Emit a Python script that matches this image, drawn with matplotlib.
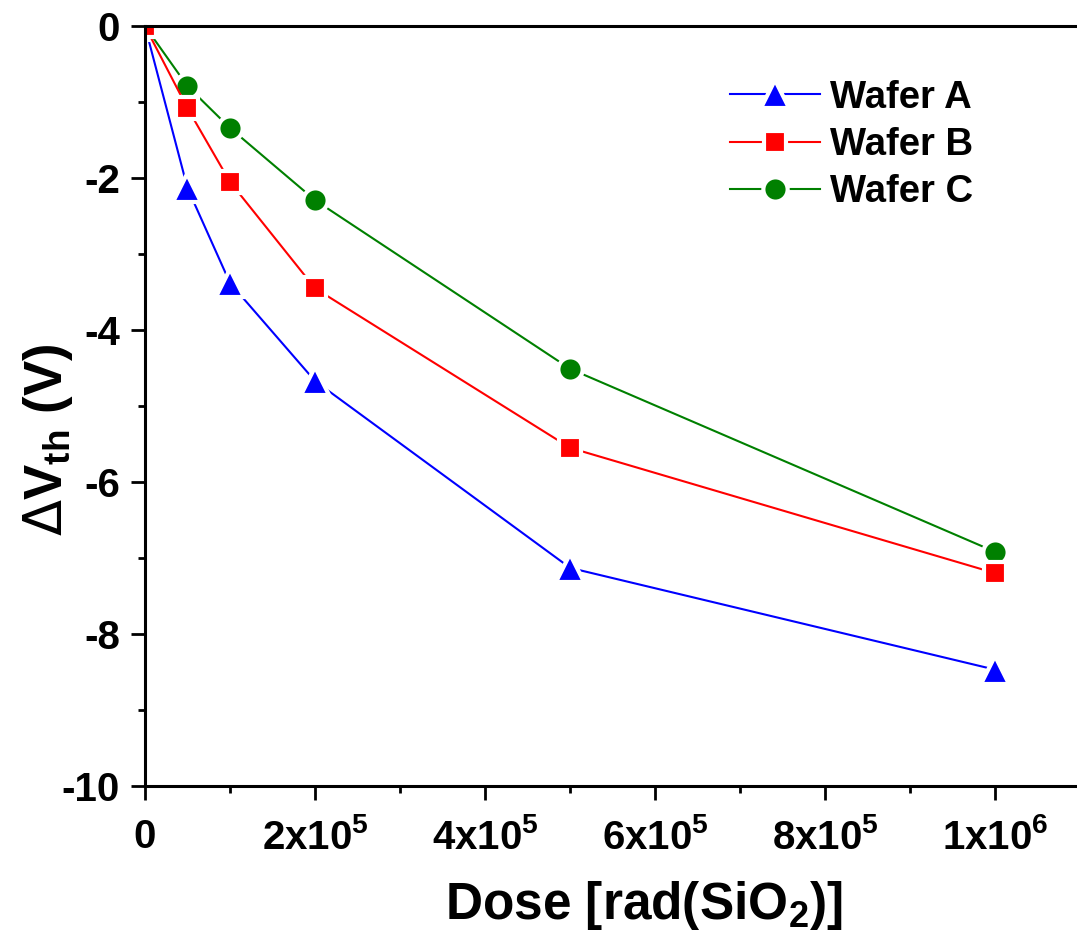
import matplotlib.pyplot as plt
import numpy as np
from matplotlib.ticker import MultipleLocator, FuncFormatter

plt.rcParams['font.family'] = ['Liberation Sans', 'DejaVu Sans']
plt.rcParams['font.weight'] = 'bold'
plt.rcParams['axes.unicode_minus'] = False
plt.rcParams['mathtext.fontset'] = 'custom'
plt.rcParams['mathtext.rm'] = 'Liberation Sans:bold'
plt.rcParams['mathtext.bf'] = 'Liberation Sans:bold'
plt.rcParams['mathtext.it'] = 'Liberation Sans:bold'
plt.rcParams['mathtext.sf'] = 'DejaVu Sans:weight=normal'

dose = np.array([0, 5e4, 1e5, 2e5, 5e5, 1e6])
wafer_a = np.array([0, -2.13, -3.38, -4.67, -7.13, -8.47])
wafer_b = np.array([0, -1.08, -2.05, -3.45, -5.55, -7.20])
wafer_c = np.array([0, -0.79, -1.34, -2.29, -4.51, -6.92])

fig = plt.figure(figsize=(10.77, 9.35), dpi=100)
ax = fig.add_axes([0.1346, 0.1594, 0.8654, 0.8126])

# white marker edge leaves a small gap between the line and each symbol
gap = 3.0
ax.plot(dose, wafer_a, '-^', color='blue', lw=1.5, ms=16.5 + gap, mec='white', mew=gap, label='Wafer A')
ax.plot(dose, wafer_c, '-o', color='green', lw=1.5, ms=14.5 + gap, mec='white', mew=gap, label='Wafer C')
ax.plot(dose, wafer_b, '-s', color='red', lw=1.5, ms=13 + gap, mec='white', mew=gap, label='Wafer B')

ax.set_xlim(0, 1.096e6)
ax.set_ylim(-10, 0)
ax.xaxis.set_major_locator(MultipleLocator(2e5))
ax.xaxis.set_minor_locator(MultipleLocator(1e5))
ax.yaxis.set_major_locator(MultipleLocator(2))
ax.yaxis.set_minor_locator(MultipleLocator(1))


def sci(v, pos):
    if v <= 0:
        return '0'
    e = int(np.floor(np.log10(v) + 1e-9))
    m = v / 10 ** e
    return r'$%d\mathrm{x}10^{%d}$' % (round(m), e)


ax.xaxis.set_major_formatter(FuncFormatter(sci))

for s in ['left', 'top', 'bottom']:
    ax.spines[s].set_linewidth(2.2)
ax.spines['right'].set_visible(False)
ax.tick_params(which='major', direction='out', length=10, width=2, labelsize=29, pad=8)
ax.tick_params(which='minor', direction='out', length=5, width=2)
ax.tick_params(axis='x', which='major', pad=13)

ax.set_xlabel(r'Dose [rad(SiO$_2$)]', fontsize=37, fontweight='bold')
ax.xaxis.set_label_coords(0.535, -0.122)
ax.set_ylabel(r'$\mathsf{\Delta}$V$_{\mathrm{th}}$ (V)', fontsize=38, fontweight='bold')
ax.yaxis.set_label_coords(-0.075, 0.455)

h, l = ax.get_legend_handles_labels()
order = [0, 2, 1]
ax.legend([h[i] for i in order], [l[i] for i in order], loc='upper left',
          bbox_to_anchor=(0.591, 0.975), frameon=False, fontsize=27.5,
          handlelength=2.35, labelspacing=0.3, handletextpad=0.26)

fig.savefig('out.png', dpi=100)
